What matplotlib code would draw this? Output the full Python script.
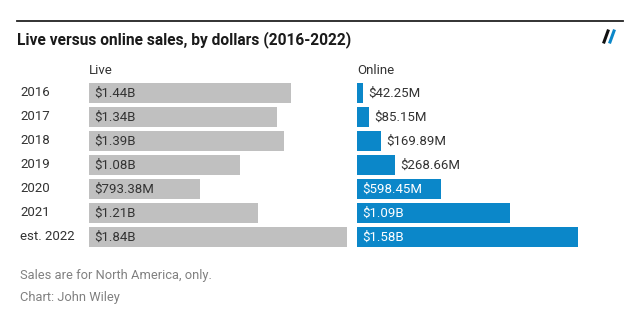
import matplotlib.pyplot as plt
from matplotlib.lines import Line2D

years = ['2016', '2017', '2018', '2019', '2020', '2021', 'est. 2022']
live = [1.44, 1.34, 1.39, 1.08, 0.79338, 1.21, 1.84]  # billions
online = [0.04225, 0.08515, 0.16989, 0.26866, 0.59845, 1.09, 1.58]
live_labels = ['$1.44B', '$1.34B', '$1.39B', '$1.08B', '$793.38M', '$1.21B', '$1.84B']
online_labels = ['$42.25M', '$85.15M', '$169.89M', '$268.66M', '$598.45M', '$1.09B', '$1.58B']

plt.rcParams['font.family'] = ['Roboto', 'DejaVu Sans']

W, H = 640, 325
fig = plt.figure(figsize=(W / 100, H / 100), dpi=100)

GRAY = '#c0c0c0'
BLUE = '#0b87c9'
TXT = '#333333'
XMAX = 1.9  # 140 px per billion
FS = 9.5


def px_axes(x0, y_top, w, h):
    return fig.add_axes([x0 / W, (H - y_top - h) / H, w / W, h / H])


ax_live = px_axes(89, 81, 266, 168)
ax_online = px_axes(357, 81, 266, 168)

ypos = list(range(len(years)))

for ax in (ax_live, ax_online):
    ax.set_xlim(0, XMAX)
    ax.set_ylim(len(years) - 0.5, -0.5)
    ax.axis('off')

ax_live.barh(ypos, live, height=0.84, color=GRAY)
for y, lab in zip(ypos, live_labels):
    ax_live.text(0.04, y, lab, va='center', ha='left', fontsize=FS, color=TXT)

ax_online.barh(ypos, online, height=0.84, color=BLUE)
for y, v, lab in zip(ypos, online, online_labels):
    if v > 0.5:
        ax_online.text(0.04, y, lab, va='center', ha='left', fontsize=FS, color='white')
    else:
        ax_online.text(v + 0.04, y, lab, va='center', ha='left', fontsize=FS, color=TXT)

# row labels
for y, yr in zip(ypos, years):
    ax_live.text(-69 / 140, y, yr, va='center', ha='left', fontsize=FS, color=TXT)

fig.text(89 / W, 1 - 70 / H, 'Live', fontsize=FS, color=TXT, va='center')
fig.text(357 / W, 1 - 70 / H, 'Online', fontsize=FS, color=TXT, va='center')

# top rule and title
fig.add_artist(Line2D([17 / W, 623 / W], [1 - 21 / H, 1 - 21 / H], color='#222222', lw=1.3))
fig.text(17 / W, 1 - 40 / H, 'Live versus online sales, by dollars (2016-2022)',
         fontsize=11.2, fontweight='bold', color='#1a1a1a', va='center')

# logo
fig.add_artist(Line2D([604 / W, 608 / W], [1 - 42 / H, 1 - 31 / H], color='#111111', lw=2.2))
fig.add_artist(Line2D([610 / W, 614 / W], [1 - 42 / H, 1 - 31 / H], color=BLUE, lw=2.2))

# notes
fig.text(20 / W, 1 - 276 / H, 'Sales are for North America, only.', fontsize=9.3, color='#808080', va='center')
fig.text(20 / W, 1 - 298 / H, 'Chart: John Wiley', fontsize=9.3, color='#808080', va='center')

fig.savefig('out.png', dpi=100, facecolor='white')
